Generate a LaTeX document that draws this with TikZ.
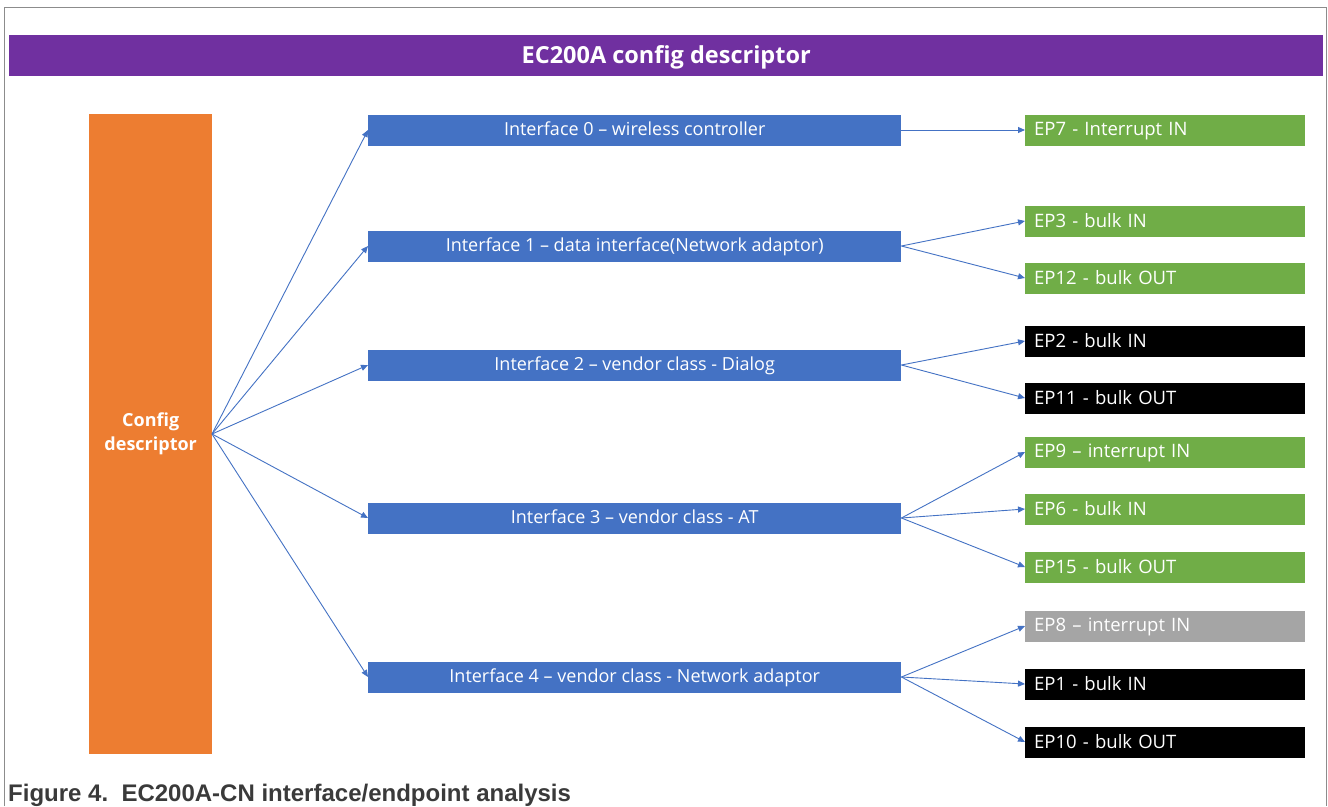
\documentclass[tikz,border=0pt]{standalone}
\usepackage{fontspec}
\setmainfont{Open Sans}
\newfontfamily\capfont{Liberation Sans}
\usetikzlibrary{arrows.meta}
\definecolor{cpurple}{HTML}{7030A0}
\definecolor{corange}{HTML}{ED7D31}
\definecolor{cblue}{HTML}{4472C4}
\definecolor{cgreen}{HTML}{70AD47}
\definecolor{cgray}{HTML}{A5A5A5}
\definecolor{cframe}{HTML}{8C8C8C}
\definecolor{ccap}{HTML}{3A3A3A}
\begin{document}
\begin{tikzpicture}[x=1pt,y=-1pt,
  iface/.style={fill=cblue,text=white,minimum width=533pt,minimum height=31pt,inner sep=0pt,anchor=west,text depth=2pt,font=\fontsize{18}{22}\selectfont},
  ep/.style={text=white,minimum height=31pt,text width=262pt,inner xsep=9pt,inner ysep=0pt,align=left,anchor=west,text depth=2pt,font=\fontsize{18.5}{22}\selectfont},
  epg/.style={ep,fill=cgreen},
  epb/.style={ep,fill=black},
  epx/.style={ep,fill=cgray},
  conn/.style={draw=cblue,line width=0.9pt,-{Triangle[length=7pt,width=6pt]}}]
\useasboundingbox (0,0) rectangle (1328,806);
\fill[white] (0,0) rectangle (1328,806);
\draw[cframe,line width=1pt] (4.5,806) -- (4.5,7) -- (1326,7) -- (1326,806);
\node[fill=cpurple,text=white,minimum width=1314pt,minimum height=41pt,inner sep=0pt,anchor=north west,text depth=3pt,font=\fontsize{23.5}{26}\selectfont\bfseries] (title) at (9,35) {EC200A config descriptor};
\node[fill=corange,text=white,minimum width=123pt,minimum height=640pt,inner sep=0pt,anchor=north west,align=center,font=\fontsize{18}{24}\selectfont\bfseries] (cfg) at (89,114) {Config\\descriptor};
\coordinate (src) at (212,434);
\node[iface] (i0) at (368,130) {Interface 0 – wireless controller};
\node[iface] (i1) at (368,246) {Interface 1 – data interface(Network adaptor)};
\node[iface] (i2) at (368,365) {Interface 2 – vendor class - Dialog};
\node[iface] (i3) at (368,518) {Interface 3 – vendor class - AT};
\node[iface] (i4) at (368,677) {Interface 4 – vendor class - Network adaptor};
\node[epg] (e7) at (1025,130) {EP7 - Interrupt IN};
\node[epg] (e3) at (1025,221) {EP3 - bulk IN};
\node[epg] (e12) at (1025,278) {EP12 - bulk OUT};
\node[epb] (e2) at (1025,341) {EP2 - bulk IN};
\node[epb] (e11) at (1025,398) {EP11 - bulk OUT};
\node[epg] (e9) at (1025,452) {EP9 – interrupt IN};
\node[epg] (e6) at (1025,509) {EP6 - bulk IN};
\node[epg] (e15) at (1025,567) {EP15 - bulk OUT};
\node[epx] (e8) at (1025,626) {EP8 – interrupt IN};
\node[epb] (e1) at (1025,684) {EP1 - bulk IN};
\node[epb] (e10) at (1025,742) {EP10 - bulk OUT};
\foreach \i in {i0,i1,i2,i3,i4} \draw[conn] (src) -- (\i.west);
\draw[conn] (i0.east) -- (e7.west);
\draw[conn] (i1.east) -- (e3.west);
\draw[conn] (i1.east) -- (e12.west);
\draw[conn] (i2.east) -- (e2.west);
\draw[conn] (i2.east) -- (e11.west);
\draw[conn] (i3.east) -- (e9.west);
\draw[conn] (i3.east) -- (e6.west);
\draw[conn] (i3.east) -- (e15.west);
\draw[conn] (i4.east) -- (e8.west);
\draw[conn] (i4.east) -- (e1.west);
\draw[conn] (i4.east) -- (e10.west);
\node[anchor=west,inner sep=0pt,text=ccap,font=\capfont\fontsize{24}{28}\selectfont\bfseries] (cap) at (8,795) {Figure 4.\ \ EC200A-CN interface/endpoint analysis};
\end{tikzpicture}
\end{document}
